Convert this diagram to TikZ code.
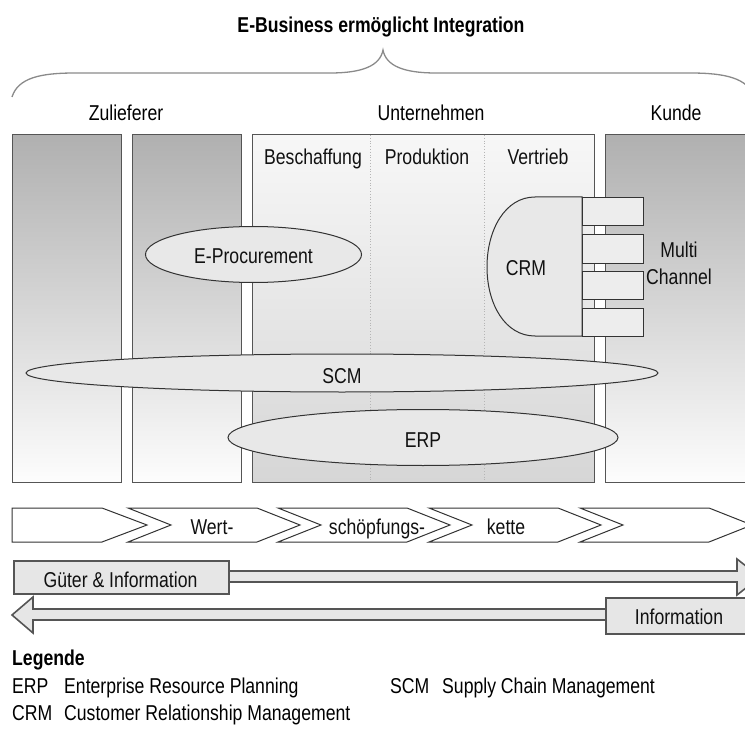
\documentclass[tikz,border=0pt]{standalone}
\usepackage{fontspec}
\setmainfont{Liberation Sans}[FakeStretch=0.82]
\usetikzlibrary{shapes.geometric}
\definecolor{bord}{HTML}{555555}
\definecolor{edge}{HTML}{333333}
\definecolor{colTop}{HTML}{B0B0B0}
\definecolor{colBot}{HTML}{FDFDFD}
\definecolor{uTop}{HTML}{F7F7F7}
\definecolor{uBot}{HTML}{D6D6D6}
\definecolor{ellf}{HTML}{E8E8E8}
\definecolor{flowf}{HTML}{E6E6E6}
\definecolor{txtc}{HTML}{111111}
\definecolor{bracec}{HTML}{8A8A8A}
\definecolor{dotc}{HTML}{B5B5B5}
\newcommand\fsz{\fontsize{21.5pt}{25pt}\selectfont}
\begin{document}
\begin{tikzpicture}[x=1pt,y=-1pt,
  txt/.style={inner sep=0pt, font=\fsz, text=txtc, anchor=base},
  hdr/.style={inner sep=0pt, font=\fsz, text=black, anchor=base},
  lgd/.style={inner sep=0pt, font=\fsz, text=black, anchor=base west},
  colbox/.style={draw=bord, line width=1.4pt, top color=colTop, bottom color=colBot, anchor=north west, inner sep=0pt},
  firm/.style={draw=bord, line width=1.4pt, top color=uTop, bottom color=uBot, anchor=north west, inner sep=0pt},
  ell/.style={ellipse, draw=edge, line width=1pt, fill=ellf, inner sep=0pt},
  chan/.style={draw=edge, line width=1pt, fill=ellf!80!white, anchor=north west, inner sep=0pt, minimum width=61pt, minimum height=28pt},
  chev/.style={draw=edge, line width=1pt, fill=white},
  flow/.style={draw=bord, line width=1.6pt, fill=flowf},
  brace/.style={draw=bracec, line width=1.3pt},
  sep/.style={draw=dotc, line width=0.8pt, dotted}]
\useasboundingbox (0,0) rectangle (745,733);

% title and brace
\node[hdr, font=\fsz\bfseries] (title) at (381,33) {E-Business ermöglicht Integration};
\draw[brace] (12,97) .. controls (18,78) and (40,73) .. (75,73) -- (330,73)
  .. controls (362,73) and (380,66) .. (383,50)
  .. controls (386,66) and (404,73) .. (436,73) -- (690,73)
  .. controls (725,73) and (748,78) .. (754,97);

% headers
\node[hdr] (hzul) at (126,121) {Zulieferer};
\node[hdr] (hunt) at (431,121) {Unternehmen};
\node[hdr] (hkun) at (676,121) {Kunde};

% columns
\node[colbox, minimum width=109pt, minimum height=348pt] (z1) at (12,134) {};
\node[colbox, minimum width=109pt, minimum height=348pt] (z2) at (132,134) {};
\node[firm, minimum width=342pt, minimum height=348pt] (firm) at (252,134) {};
\node[colbox, minimum width=150pt, minimum height=348pt] (kunde) at (605,134) {};
\coordinate (s1t) at (370,135); \coordinate (s1b) at (370,481);
\coordinate (s2t) at (484,135); \coordinate (s2b) at (484,481);
\draw[sep] (s1t) -- (s1b);
\draw[sep] (s2t) -- (s2b);

\node[txt] (besch) at (313,165) {Beschaffung};
\node[txt] (prod) at (427,165) {Produktion};
\node[txt] (vert) at (538,165) {Vertrieb};

% E-Procurement
\node[ell, minimum width=216pt, minimum height=56pt] (eproc) at (253.5,254.5) {};
\node[txt] at (253.5,263) {E-Procurement};

% CRM
\draw[draw=edge, line width=1pt, fill=ellf] (582,197) -- (535,197)
  .. controls (505,197) and (487,230) .. (487,267)
  .. controls (487,304) and (505,336) .. (535,336) -- (582,336) -- cycle;
\node[txt] (crm) at (526,276) {CRM};
\node[chan] (ch1) at (582,197) {};
\node[chan] (ch2) at (582,234.5) {};
\node[chan] (ch3) at (582,271) {};
\node[chan] (ch4) at (582,308) {};
\node[txt] (multi) at (679,258) {Multi};
\node[txt] (chn) at (679,284) {Channel};

% SCM and ERP
\node[ell, minimum width=632pt, minimum height=38pt] (scm) at (342,373) {};
\node[txt] at (342,383) {SCM};
\node[ell, minimum width=390pt, minimum height=56pt] (erp) at (423,437.5) {};
\node[txt] at (423,447) {ERP};

% value chain
\draw[chev] (12,508) -- (102,508) -- (147,525) -- (102,542) -- (12,542) -- cycle;
\foreach \b in {128,278,429,580}{
  \draw[chev] (\b,508) -- (\b+129,508) -- (\b+172,525) -- (\b+129,542) -- (\b,542) -- (\b+43,525) -- cycle;
}
\node[txt] (w1) at (212,534) {Wert-};
\node[txt] (w2) at (377,534) {schöpfungs-};
\node[txt] (w3) at (506,534) {kette};

% flows
\draw[flow] (200,571) -- (737,571) -- (737,559) -- (760,577) -- (737,595) -- (737,582) -- (200,582) -- cycle;
\node[flow, anchor=north west, minimum width=215pt, minimum height=33pt, inner sep=0pt] (gi) at (13,560) {};
\node[txt] at (120.5,587) {Güter \& Information};
\draw[flow] (640,609) -- (33,609) -- (33,597) -- (12,615) -- (33,633) -- (33,620) -- (640,620) -- cycle;
\node[flow, anchor=north west, minimum width=150pt, minimum height=36pt, inner sep=0pt] (inf) at (605,597) {};
\node[txt] at (679,624) {Information};

% legend
\node[lgd, font=\fsz\bfseries] (leg) at (12,665) {Legende};
\node[lgd] (l1a) at (12,693) {ERP};
\node[lgd] (l1b) at (64,693) {Enterprise Resource Planning};
\node[lgd] (l2a) at (390,693) {SCM};
\node[lgd] (l2b) at (442,693) {Supply Chain Management};
\node[lgd] (l3a) at (12,720) {CRM};
\node[lgd] (l3b) at (64,720) {Customer Relationship Management};
\end{tikzpicture}
\end{document}
